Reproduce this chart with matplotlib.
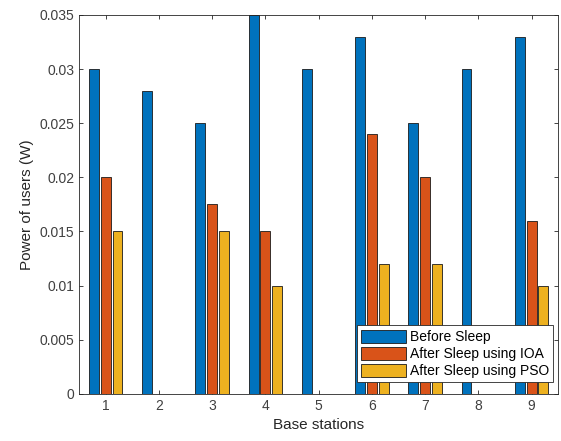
import numpy as np
import matplotlib
matplotlib.use("Agg")
import matplotlib.pyplot as plt

# ---------------------------------------------------
# Data
# ---------------------------------------------------
stations = [1, 2, 3, 4, 5, 6, 7, 8, 9]
before_sleep = [0.030, 0.028, 0.025, 0.035, 0.030, 0.033, 0.025, 0.030, 0.033]
after_ioa = [0.020, 0.0, 0.0175, 0.015, 0.0, 0.024, 0.020, 0.0, 0.016]
after_pso = [0.015, 0.0, 0.015, 0.010, 0.0, 0.012, 0.012, 0.0, 0.010]

series_labels = ["Before Sleep", "After Sleep using IOA", "After Sleep using PSO"]
colors = ["#0072BD", "#D95319", "#EDB120"]

plt.rcParams["font.family"] = ["Liberation Sans", "DejaVu Sans"]

fig = plt.figure(figsize=(5.61, 4.41), dpi=100)
ax = fig.add_axes([0.141, 0.107, 0.854, 0.859])

x = np.array(stations, dtype=float)
offset = 0.222
width = 0.185
for i, (vals, lab, col) in enumerate(zip([before_sleep, after_ioa, after_pso], series_labels, colors)):
    ax.bar(x + (i - 1) * offset, vals, width=width, color=col, edgecolor="#1a1a1a",
           linewidth=0.6, label=lab, zorder=2)

ax.set_xlim(0.5, 9.5)
ax.set_ylim(0, 0.035)
ax.set_xticks(stations)
ax.set_yticks([0, 0.005, 0.01, 0.015, 0.02, 0.025, 0.03, 0.035])
ax.set_yticklabels(["0", "0.005", "0.01", "0.015", "0.02", "0.025", "0.03", "0.035"])

ax.tick_params(direction="in", top=True, right=True, length=3, width=0.6,
               colors="#262626", labelsize=10, labelcolor="#404040")
for sp in ax.spines.values():
    sp.set_color("#262626")
    sp.set_linewidth(0.6)
    sp.set_zorder(3)

ax.set_xlabel("Base stations", fontsize=11, color="#262626")
ax.set_ylabel("Power of users (W)", fontsize=11, color="#262626")

leg = ax.legend(loc="lower right", bbox_to_anchor=(0.99, 0.03), fontsize=10,
                fancybox=False, framealpha=1, edgecolor="#262626",
                handlelength=3.2, handleheight=1.1, handletextpad=0.3,
                borderpad=0.3, labelspacing=0.2, borderaxespad=0)
leg.get_frame().set_linewidth(0.6)
leg.set_zorder(5)

fig.savefig("out.png", dpi=100)
